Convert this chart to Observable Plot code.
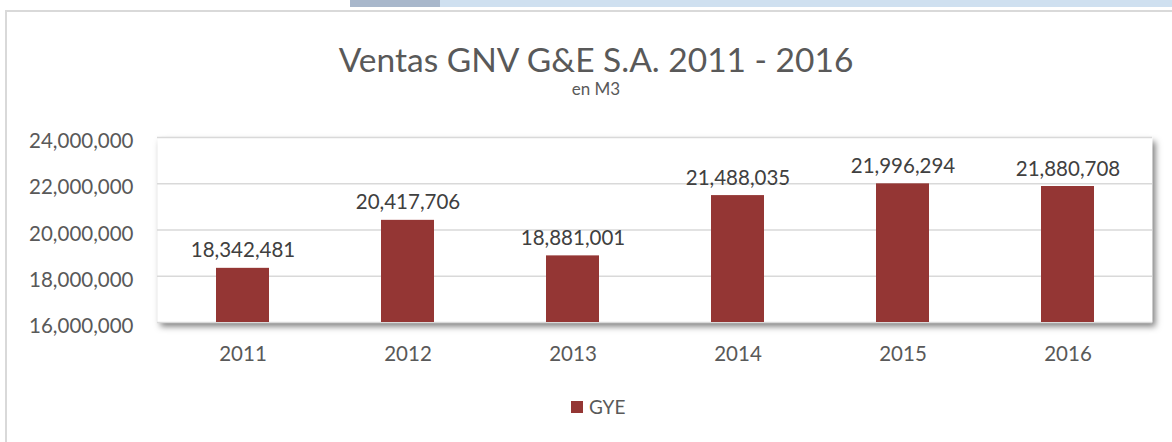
<!DOCTYPE html>
<html>
<head>
<meta charset="utf-8">
<script src="https://cdn.jsdelivr.net/npm/d3@7"></script>
<script src="https://cdn.jsdelivr.net/npm/@observablehq/plot@0.6"></script>
<style>
  html, body { margin: 0; padding: 0; background: #fff; overflow: hidden; width: 1172px; height: 442px; }
  body { position: relative; font-family: Lato, "Open Sans", sans-serif; color: #595959; }
  #topbar-dark { position: absolute; left: 350px; top: 0; width: 100px; height: 7px; background: #a8b7cb; }
  #topbar-light { position: absolute; left: 440px; top: 0; width: 740px; height: 7px; background: #cfe0f0; }
  #border { position: absolute; left: 5px; top: 10px; width: 1300px; height: 600px; border: 2px solid #d9d9d9; box-sizing: border-box; }
  #title { position: absolute; left: 0; width: 1192px; top: 39px; text-align: center; font-size: 33.5px; line-height: 1.2; }
  #subtitle { position: absolute; left: 0; width: 1192px; top: 79px; text-align: center; font-size: 17px; line-height: 1.2; }
  #chart { position: absolute; left: 0; top: 110px; }
  #legend { position: absolute; left: 571px; top: 396px; font-size: 19px; line-height: 1.2; display: flex; align-items: center; }
  #legend .sw { width: 12px; height: 12px; background: #943634; margin-right: 6px; }
</style>
</head>
<body>
<div id="topbar-dark"></div>
<div id="topbar-light"></div>
<div id="border"></div>
<div id="title">Ventas GNV G&amp;E S.A. 2011 - 2016</div>
<div id="subtitle">en M3</div>
<div id="chart"></div>
<div id="legend"><div class="sw"></div><span>GYE</span></div>
<script>
const years = ["2011", "2012", "2013", "2014", "2015", "2016"];
const ventas = [18342481, 20417706, 18881001, 21488035, 21996294, 21880708];
const yTicks = [16000000, 18000000, 20000000, 22000000, 24000000];
const seriesName = "GYE";
const barColor = "#943634";

const data = years.map((y, i) => ({year: y, value: ventas[i], base: yTicks[0]}));
const fmt = d3.format(",");

const plot = Plot.plot({
  width: 1172,
  height: 260,
  marginTop: 27,
  marginBottom: 48,
  marginLeft: 157,
  marginRight: 20,
  style: {fontFamily: "Lato, 'Open Sans', sans-serif", fontSize: "20.5px", color: "#595959", background: "transparent"},
  x: {domain: years, paddingInner: 0.68, paddingOuter: 0.34, label: null},
  y: {domain: [yTicks[0], yTicks[yTicks.length - 1]], label: null},
  marks: [
    Plot.frame({fill: "white", stroke: null}),
    Plot.gridY(yTicks, {stroke: "#d9d9d9", strokeOpacity: 1, strokeWidth: 1.5}),
    Plot.barY(data, {x: "year", y1: "base", y2: "value", fill: barColor}),
    Plot.text(data, {x: "year", y: "value", text: d => fmt(d.value), lineAnchor: "bottom", dy: -11, fill: "#404040", fontSize: 20.5}),
    Plot.axisY({ticks: yTicks, tickFormat: d => fmt(d), tickSize: 0, tickPadding: 24, dy: 4, fill: "#595959", fontSize: 20.5}),
    Plot.axisX({tickSize: 0, tickPadding: 24, fill: "#595959", fontSize: 20.5})
  ]
});
const frame = plot.querySelector('[aria-label="frame"]');
if (frame) frame.style.filter = "drop-shadow(3px 4px 3px rgba(0,0,0,0.5))";
document.getElementById("chart").appendChild(plot);
</script>
</body>
</html>
